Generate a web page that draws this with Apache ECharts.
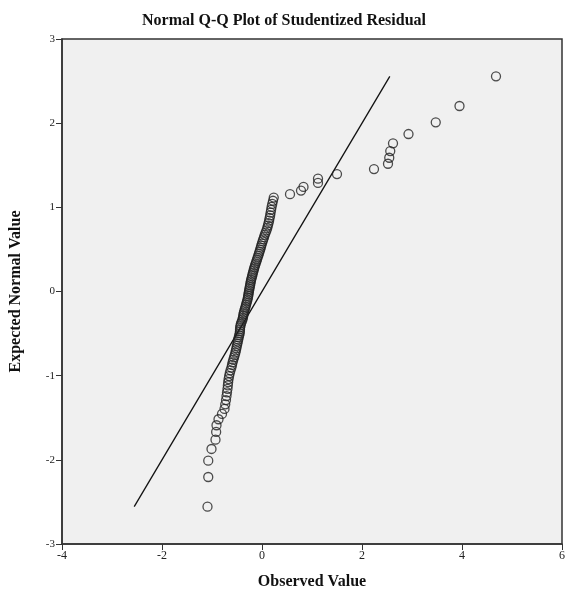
<!DOCTYPE html>
<html lang="en">
<head>
    <meta charset="UTF-8">
    <title>Normal Q-Q Plot</title>
    <style>
        html,
        body,
        #chart {
            margin: 0px;
            padding: 0px;
            width: 100%;
            height: 100%;
            background: #fff;
        }
    </style>
</head>
<body>
    <div id="chart"></div>
    <script src="https://cdn.jsdelivr.net/npm/echarts@6/dist/echarts.min.js"></script>
    <script>
        // observed studentized residuals, sorted
        var observed = [
            -1.09, -1.075, -1.075, -1.01, -0.93, -0.917, -0.91, -0.87, -0.80, -0.75,
            -0.735, -0.72, -0.71, -0.70, -0.69, -0.683, -0.677, -0.668, -0.658, -0.645,
            -0.630, -0.612, -0.600, -0.588, -0.575, -0.560, -0.545, -0.533, -0.522, -0.512,
            -0.503, -0.493, -0.484, -0.475, -0.466, -0.456, -0.446, -0.442, -0.440, -0.437,
            -0.430, -0.420, -0.405, -0.392, -0.382, -0.375, -0.370, -0.362, -0.352, -0.340,
            -0.330, -0.320, -0.310, -0.300, -0.290, -0.282, -0.276, -0.270, -0.265, -0.258,
            -0.252, -0.245, -0.238, -0.232, -0.225, -0.218, -0.208, -0.198, -0.190, -0.180,
            -0.170, -0.160, -0.150, -0.138, -0.125, -0.113, -0.100, -0.088, -0.075, -0.062,
            -0.050, -0.037, -0.025, -0.015, -0.002, 0.012, 0.025, 0.040, 0.055, 0.072,
            0.090, 0.105, 0.118, 0.130, 0.142, 0.152, 0.163, 0.172, 0.182, 0.192,
            0.205, 0.220, 0.235, 0.56, 0.78, 0.83, 1.12, 1.12, 1.50, 2.24,
            2.52, 2.545, 2.565, 2.62, 2.93, 3.475, 3.95, 4.68
        ];

        // expected normal values
        var expected = [
            -2.556, -2.204, -2.010, -1.871, -1.761, -1.669, -1.589, -1.518, -1.454, -1.395,
            -1.341, -1.290, -1.243, -1.199, -1.156, -1.116, -1.078, -1.041, -1.005, -0.970,
            -0.937, -0.904, -0.873, -0.842, -0.812, -0.783, -0.755, -0.727, -0.700, -0.673,
            -0.646, -0.620, -0.595, -0.570, -0.545, -0.521, -0.497, -0.473, -0.449, -0.426,
            -0.403, -0.380, -0.357, -0.335, -0.313, -0.290, -0.268, -0.247, -0.225, -0.203,
            -0.182, -0.160, -0.139, -0.117, -0.096, -0.074, -0.053, -0.032, -0.011, 0.011,
            0.032, 0.053, 0.074, 0.096, 0.117, 0.139, 0.160, 0.182, 0.203, 0.225,
            0.247, 0.268, 0.290, 0.313, 0.335, 0.357, 0.380, 0.403, 0.426, 0.449,
            0.473, 0.497, 0.521, 0.545, 0.570, 0.595, 0.620, 0.646, 0.673, 0.700,
            0.727, 0.755, 0.783, 0.812, 0.842, 0.873, 0.904, 0.937, 0.970, 1.005,
            1.041, 1.078, 1.116, 1.156, 1.199, 1.243, 1.290, 1.341, 1.395, 1.454,
            1.518, 1.589, 1.669, 1.761, 1.871, 2.010, 2.204, 2.556
        ];

        // reference line end points
        var refLine = [[-2.556, -2.556], [2.556, 2.556]];

        var points = [];
        for (var i = 0; i < observed.length; i++)
            points.push([observed[i], expected[i]]);

        var serif = '"Liberation Serif", "DejaVu Serif", serif';

        var myChart = echarts.init(document.getElementById('chart'));
        myChart.setOption({
            animation: false,
            backgroundColor: '#fff',
            title: {
                text: 'Normal Q-Q Plot of Studentized Residual',
                left: 'center',
                top: 8,
                textStyle: {
                    fontFamily: serif,
                    fontWeight: 'bold',
                    fontSize: 16,
                    color: '#111'
                }
            },
            grid: {
                left: 61,
                right: 2,
                top: 39,
                bottom: 51,
                show: true,
                backgroundColor: '#f0f0f0',
                borderColor: '#333',
                borderWidth: 1.5
            },
            xAxis: {
                type: 'value',
                min: -4,
                max: 6,
                interval: 2,
                name: 'Observed Value',
                nameLocation: 'middle',
                nameGap: 30,
                nameTextStyle: {
                    fontFamily: serif,
                    fontWeight: 'bold',
                    fontSize: 16,
                    color: '#111'
                },
                axisLine: { onZero: false, lineStyle: { color: '#333', width: 1.5 } },
                axisTick: { length: 6, lineStyle: { color: '#333' } },
                axisLabel: { fontFamily: serif, fontSize: 12, color: '#222', margin: 6 },
                splitLine: { show: false }
            },
            yAxis: {
                type: 'value',
                min: -3,
                max: 3,
                interval: 1,
                name: 'Expected Normal Value',
                nameLocation: 'middle',
                nameGap: 38,
                nameTextStyle: {
                    fontFamily: serif,
                    fontWeight: 'bold',
                    fontSize: 16,
                    color: '#111'
                },
                axisLine: { onZero: false, lineStyle: { color: '#333', width: 1.5 } },
                axisTick: { length: 6, lineStyle: { color: '#333' } },
                axisLabel: { fontFamily: serif, fontSize: 11, color: '#222', margin: 7 },
                splitLine: { show: false }
            },
            series: [{
                name: 'reference',
                type: 'line',
                data: refLine,
                symbol: 'none',
                lineStyle: { color: '#111', width: 1.3 },
                z: 2
            }, {
                name: 'residuals',
                type: 'scatter',
                data: points,
                symbol: 'circle',
                symbolSize: 9,
                itemStyle: {
                    color: 'rgba(0,0,0,0)',
                    borderColor: '#222',
                    borderWidth: 1.3
                },
                z: 3
            }]
        });

        window.addEventListener("resize", function () {
            myChart.resize();
        });
    </script>
</body>
</html>
